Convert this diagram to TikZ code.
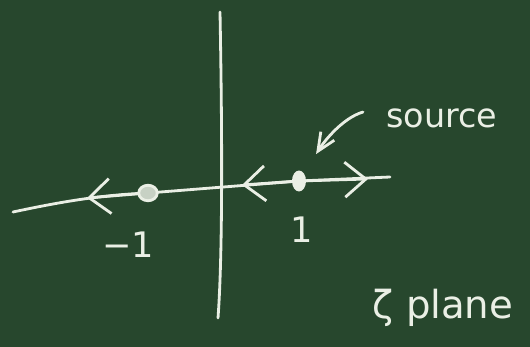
\documentclass[tikz,border=0pt]{standalone}
\usepackage{fontspec}
\setmainfont{DejaVu Sans}
\usetikzlibrary{arrows.meta, shapes.geometric, backgrounds}

\definecolor{board}{RGB}{39,71,45}
\definecolor{chalk}{RGB}{234,239,229}

\begin{document}
\begin{tikzpicture}[
    x=0.02cm, y=-0.02cm,
    chalkline/.style = {draw=chalk, line width=1.6pt, line cap=round},
    flow/.style      = {chalkline, -{Straight Barb[length=4.2mm, width=7mm]}},
    pointer/.style   = {chalkline, -{Straight Barb[length=3.6mm, width=3.2mm]}},
    pole/.style      = {ellipse, draw=chalk, line width=1.6pt, fill=chalk!82!board,
                        minimum width=0.37cm, minimum height=0.31cm, inner sep=0pt},
    srcdot/.style    = {ellipse, fill=chalk, minimum width=0.28cm,
                        minimum height=0.42cm, inner sep=0pt},
    label/.style     = {text=chalk, inner sep=0pt},
]

%% Board
\useasboundingbox (0,0) rectangle (530,347);

%% Points on the real axis
\node[pole]   (sink) at (148,193) {};
\node[srcdot] (src)  at (299,181) {};

%% Axis ends and arrow vertices
\coordinate (xl)   at (13,212);
\coordinate (xr)   at (390,177);
\coordinate (yt)   at (220,12);
\coordinate (yb)   at (218,318);
\coordinate (tipL) at (87,198);
\coordinate (tipM) at (242,185);
\coordinate (tipR) at (368,179);
\coordinate (ptr)  at (363,112);

%% Axes
\begin{scope}[on background layer]
  \fill[board] (0,0) rectangle (530,347);
  \draw[chalkline] (xl) .. controls (60,202) and (100,195) .. (sink.center)
                   -- (src.center) -- (xr);
  \draw[chalkline] (yt) .. controls (222,120) and (223,250) .. (yb);
\end{scope}

%% Flow directions
\draw[flow] (sink) -- (tipL);
\draw[flow] (src)  -- (tipM);
\draw[flow] (src)  -- (tipR);

%% Labels
\node[label, font=\fontsize{20}{24}\selectfont, anchor=base] (lm1) at (128,257) {−1};
\node[label, font=\fontsize{20}{24}\selectfont, anchor=base] (lp1) at (302,243) {1};
\node[label, font=\fontsize{19}{23}\selectfont, anchor=base west] (srclbl) at (386,128) {source};
\node[label, font=\fontsize{22}{26}\selectfont, anchor=base] (plane) at (443,318) {ζ plane};

%% Pointer to the source
\draw[pointer, shorten >=0.45cm] (ptr) .. controls (343,118) and (325,140) .. (src);

\end{tikzpicture}
\end{document}
